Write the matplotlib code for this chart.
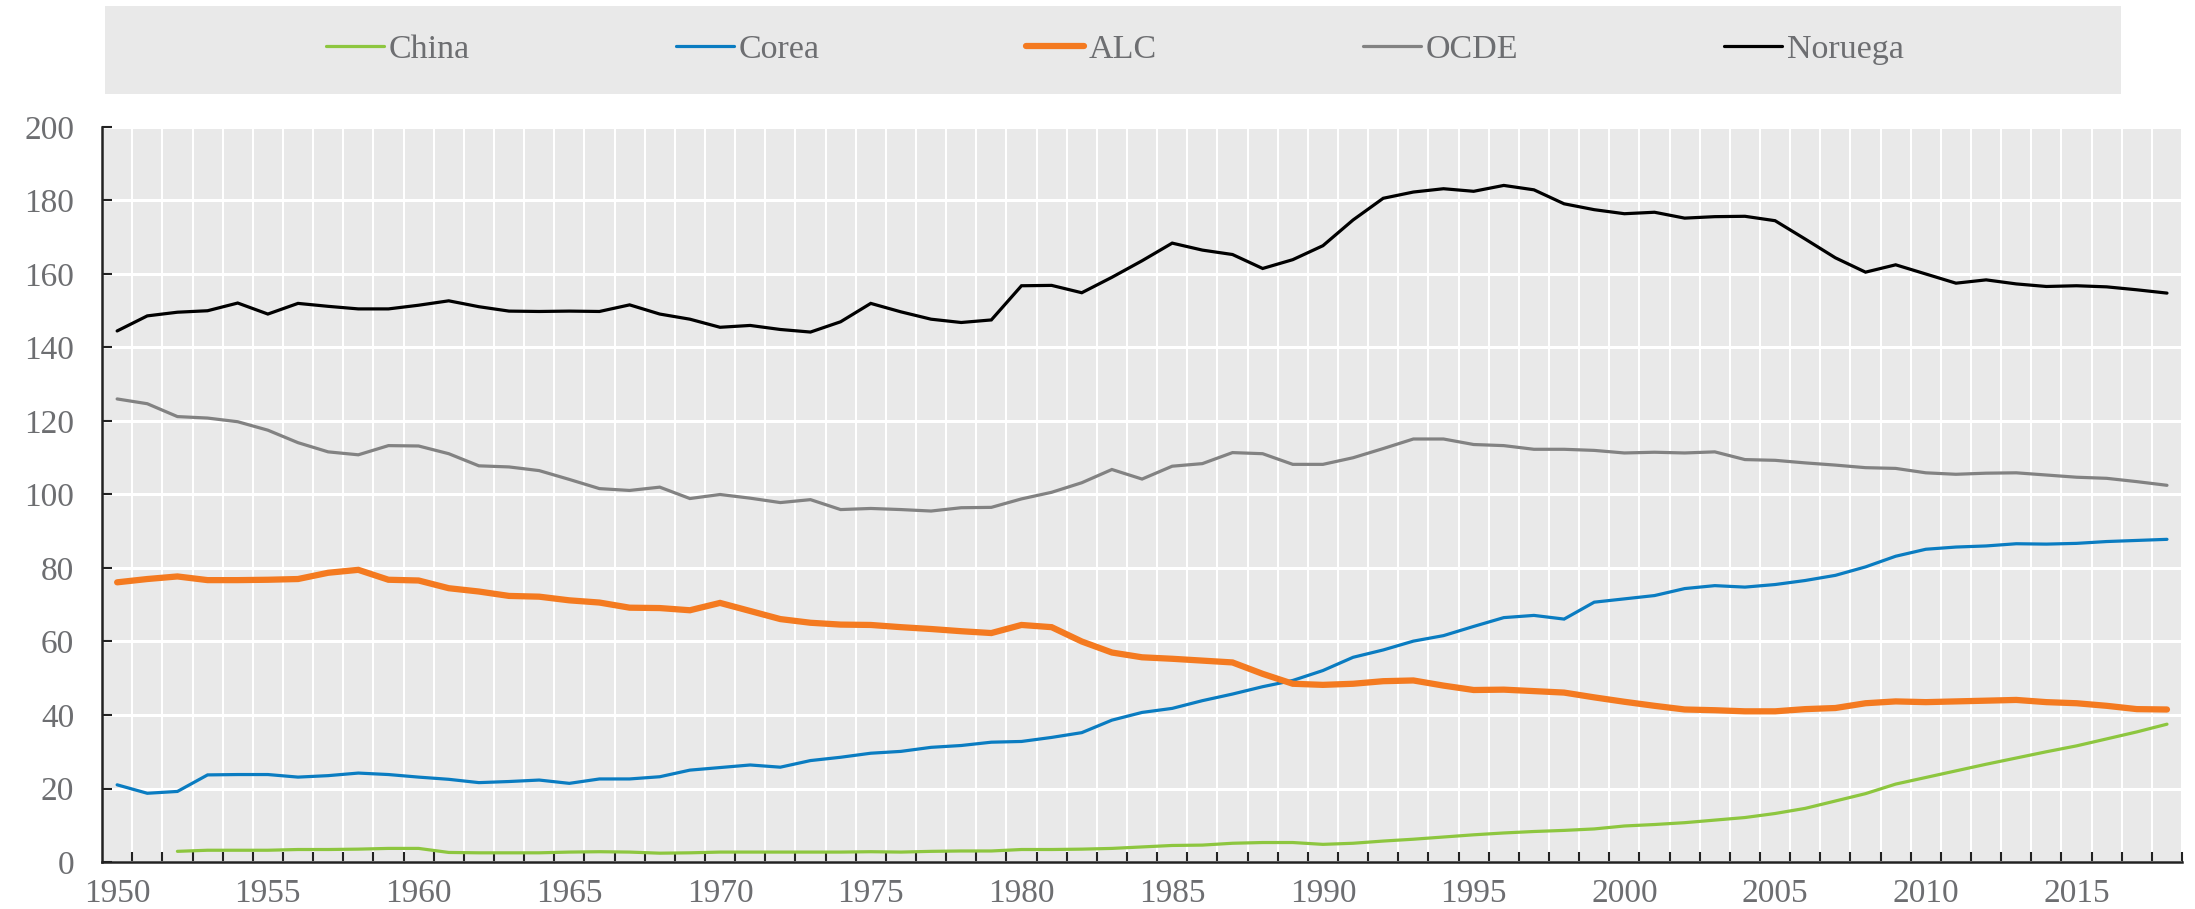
import matplotlib.pyplot as plt
import numpy as np
from matplotlib.patches import Rectangle

years = np.arange(1950, 2019)

china = [np.nan, np.nan, 2.9, 3.2, 3.2, 3.2, 3.4, 3.4, 3.5, 3.7,
         3.7, 2.6, 2.5, 2.5, 2.5, 2.7, 2.8, 2.7, 2.4, 2.5,
         2.7, 2.7, 2.7, 2.7, 2.7, 2.8, 2.7, 2.9, 3.0, 3.0,
         3.4, 3.4, 3.5, 3.7, 4.1, 4.5, 4.6, 5.1, 5.3, 5.3,
         4.8, 5.1, 5.7, 6.2, 6.8, 7.4, 7.9, 8.3, 8.6, 9.0,
         9.8, 10.2, 10.7, 11.4, 12.1, 13.2, 14.6, 16.6, 18.6, 21.2,
         23.0, 24.8, 26.6, 28.3, 30.0, 31.6, 33.5, 35.4, 37.5]
corea = [21.0, 18.7, 19.2, 23.7, 23.8, 23.8, 23.1, 23.5, 24.2, 23.8,
         23.1, 22.5, 21.6, 21.9, 22.3, 21.4, 22.6, 22.6, 23.2, 25.0,
         25.7, 26.4, 25.8, 27.6, 28.5, 29.6, 30.1, 31.2, 31.7, 32.6,
         32.8, 33.9, 35.2, 38.6, 40.7, 41.8, 43.9, 45.7, 47.7, 49.4,
         52.1, 55.7, 57.7, 60.1, 61.6, 64.1, 66.5, 67.1, 66.1, 70.7,
         71.6, 72.5, 74.4, 75.2, 74.8, 75.5, 76.6, 78.0, 80.3, 83.2,
         85.1, 85.7, 86.0, 86.6, 86.5, 86.7, 87.2, 87.5, 87.8]
alc = [76.1, 77.0, 77.7, 76.7, 76.7, 76.8, 77.0, 78.7, 79.5, 76.8,
       76.6, 74.5, 73.6, 72.4, 72.2, 71.2, 70.6, 69.2, 69.1, 68.5,
       70.5, 68.3, 66.1, 65.1, 64.6, 64.5, 63.9, 63.4, 62.8, 62.3,
       64.5, 63.9, 60.0, 57.0, 55.7, 55.3, 54.8, 54.3, 51.2, 48.5,
       48.2, 48.5, 49.2, 49.4, 48.0, 46.8, 46.9, 46.5, 46.1, 44.8,
       43.6, 42.5, 41.5, 41.3, 41.0, 41.0, 41.6, 41.9, 43.2, 43.7,
       43.5, 43.7, 43.9, 44.1, 43.5, 43.2, 42.5, 41.6, 41.5]
ocde = [126.0, 124.7, 121.2, 120.8, 119.8, 117.5, 114.1, 111.6, 110.8, 113.3,
        113.2, 111.1, 107.8, 107.5, 106.5, 104.1, 101.6, 101.1, 102.0, 98.9,
        100.0, 99.0, 97.8, 98.6, 95.9, 96.2, 95.9, 95.5, 96.4, 96.5,
        98.8, 100.6, 103.2, 106.8, 104.2, 107.7, 108.4, 111.4, 111.1, 108.2,
        108.2, 110.0, 112.5, 115.1, 115.1, 113.6, 113.3, 112.3, 112.3, 112.0,
        111.3, 111.5, 111.3, 111.6, 109.5, 109.3, 108.6, 108.0, 107.3, 107.1,
        105.9, 105.5, 105.8, 105.9, 105.3, 104.7, 104.4, 103.5, 102.5]
noruega = [144.5, 148.6, 149.6, 150.0, 152.1, 149.1, 152.0, 151.2, 150.5, 150.5,
           151.5, 152.7, 151.1, 149.9, 149.8, 149.9, 149.8, 151.6, 149.1, 147.7,
           145.5, 146.0, 144.9, 144.2, 147.0, 152.0, 149.7, 147.7, 146.8, 147.5,
           156.8, 156.9, 154.9, 159.1, 163.6, 168.4, 166.5, 165.3, 161.5, 163.9,
           167.7, 174.7, 180.6, 182.3, 183.2, 182.5, 184.1, 182.9, 179.1, 177.5,
           176.4, 176.8, 175.2, 175.6, 175.7, 174.5, 169.5, 164.4, 160.5, 162.5,
           160.0, 157.5, 158.4, 157.3, 156.6, 156.8, 156.5, 155.7, 154.8]

series = [("China", china, "#8dc63f", 2.3),
          ("Corea", corea, "#0a7cc1", 2.3),
          ("ALC", alc, "#f47a20", 4.5),
          ("OCDE", ocde, "#828282", 2.3),
          ("Noruega", noruega, "#000000", 2.3)]

plt.rcParams['font.family'] = ['Liberation Serif', 'DejaVu Serif']
txt_color = "#6d6e71"

fig = plt.figure(figsize=(21.95, 9.09), dpi=100)
ax = fig.add_axes([0.0465, 0.0517, 0.9476, 0.8086])
ax.set_facecolor("#e9e9e9")

for name, vals, col, lw in series:
    ax.plot(years, vals, color=col, lw=lw, label=name, solid_capstyle='round',
            solid_joinstyle='miter', zorder=3)

ax.set_xlim(1949.5, 2018.5)
ax.set_ylim(0, 200)
ax.set_yticks(np.arange(0, 201, 20))
ax.set_xticks(np.arange(1950, 2016, 5))
ax.set_xticks(np.arange(1950.5, 2019, 1), minor=True)

ax.grid(axis='y', color='white', lw=2.2, zorder=1)
ax.grid(axis='x', which='minor', color='white', lw=1.5, zorder=1)
ax.set_axisbelow(True)

for s in ['top', 'right']:
    ax.spines[s].set_visible(False)
for s in ['left', 'bottom']:
    ax.spines[s].set_linewidth(1.8)
    ax.spines[s].set_color('#222222')

ax.tick_params(axis='y', direction='in', length=7, width=1.5, color='#222222',
               labelsize=24, labelcolor=txt_color, pad=20)
ax.tick_params(axis='x', which='major', length=0, labelsize=24,
               labelcolor=txt_color, pad=12)
ax.tick_params(axis='x', which='minor', direction='in', length=7, width=1.5,
               color='#222222')

# legend band
fig.patches.append(Rectangle((0.0478, 0.8966), 0.9185, 0.0968,
                             transform=fig.transFigure, facecolor="#e9e9e9",
                             edgecolor='none', zorder=0))
leg = fig.legend(loc='center', bbox_to_anchor=(0.508, 0.945), ncol=5,
                 frameon=False, fontsize=24.5, handlelength=1.7,
                 handletextpad=0.15, columnspacing=6.05)
for t in leg.get_texts():
    t.set_color(txt_color)

fig.savefig("out.png", dpi=100)
